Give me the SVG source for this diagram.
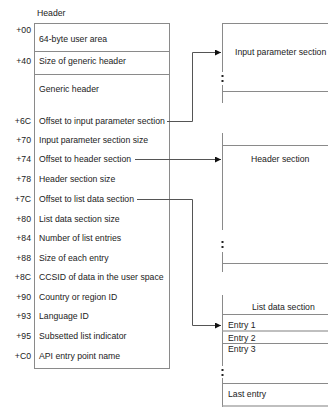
<svg xmlns="http://www.w3.org/2000/svg" width="328" height="407" viewBox="0 0 328 407">
<style>
text{font-family:"Liberation Sans",Arial,sans-serif;font-size:8.7px;fill:#222}
.off{text-anchor:end}
.box{fill:none;stroke:#8a8a8a;stroke-width:1}
.ln{stroke:#8a8a8a;stroke-width:1;fill:none}
.thk{stroke:#aaa;stroke-width:1.6;fill:none}
.con{stroke:#555;stroke-width:1;fill:none}
.dot{fill:#222}
</style>
<defs>
<marker id="arr" viewBox="0 0 6 6" refX="6" refY="3" markerWidth="6" markerHeight="6" markerUnits="userSpaceOnUse" orient="auto">
<path d="M0,0 L6,3 L0,6 Z" fill="#111"/>
</marker>
</defs>
<rect width="328" height="407" fill="#fff"/>
<g id="header">
<text x="37" y="16">Header</text>
<rect class="box" x="34.5" y="23.5" width="135" height="345"/>
<line class="ln" x1="34.5" y1="51.5" x2="169.5" y2="51.5"/>
<line class="ln" x1="34.5" y1="74.5" x2="169.5" y2="74.5"/>
<text class="off" x="31" y="33">+00</text><text x="39" y="42">64-byte user area</text>
<text class="off" x="31" y="64">+40</text><text x="39" y="64">Size of generic header</text>
<text x="39" y="92">Generic header</text>
<text class="off" x="31" y="124">+6C</text><text x="39" y="124">Offset to input parameter section</text>
<text class="off" x="31" y="143">+70</text><text x="39" y="143">Input parameter section size</text>
<text class="off" x="31" y="162">+74</text><text x="39" y="162">Offset to header section</text>
<text class="off" x="31" y="182">+78</text><text x="39" y="182">Header section size</text>
<text class="off" x="31" y="202">+7C</text><text x="39" y="202">Offset to list data section</text>
<text class="off" x="31" y="222">+80</text><text x="39" y="222">List data section size</text>
<text class="off" x="31" y="241">+84</text><text x="39" y="241">Number of list entries</text>
<text class="off" x="31" y="261">+88</text><text x="39" y="261">Size of each entry</text>
<text class="off" x="31" y="280">+8C</text><text x="39" y="280">CCSID  of data in the user space</text>
<text class="off" x="31" y="300">+90</text><text x="39" y="300">Country or region ID</text>
<text class="off" x="31" y="319">+93</text><text x="39" y="319">Language ID</text>
<text class="off" x="31" y="339">+95</text><text x="39" y="339">Subsetted list indicator</text>
<text class="off" x="31" y="359">+C0</text><text x="39" y="359">API entry point name</text>
</g>
<g id="input-parameter-section">
<line class="ln" x1="222.5" y1="23.5" x2="328" y2="23.5"/>
<line class="ln" x1="222.5" y1="23" x2="222.5" y2="72"/>
<rect class="dot" x="221.5" y="75" width="2" height="2"/>
<rect class="dot" x="221.5" y="80" width="2" height="2"/>
<line class="ln" x1="222.5" y1="85" x2="222.5" y2="103"/>
<line class="ln" x1="222.5" y1="91.5" x2="328" y2="91.5"/>
<text x="235" y="55">Input parameter section</text>
</g>
<g id="header-section">
<line class="ln" x1="222.5" y1="133" x2="222.5" y2="230"/>
<line class="ln" x1="222.5" y1="145.5" x2="328" y2="145.5"/>
<rect class="dot" x="221.5" y="241" width="2" height="2"/>
<rect class="dot" x="221.5" y="246" width="2" height="2"/>
<line class="ln" x1="222.5" y1="252" x2="222.5" y2="272"/>
<line class="ln" x1="222.5" y1="263.5" x2="328" y2="263.5"/>
<text x="251" y="162">Header section</text>
</g>
<g id="list-data-section">
<line class="ln" x1="222.5" y1="295" x2="222.5" y2="366"/>
<rect class="dot" x="221.5" y="369" width="2" height="2"/>
<rect class="dot" x="221.5" y="374" width="2" height="2"/>
<line class="ln" x1="222.5" y1="378" x2="222.5" y2="407"/>
<line class="ln" x1="222.5" y1="314.5" x2="328" y2="314.5"/>
<line class="thk" x1="222.5" y1="331" x2="328" y2="331"/>
<line class="ln" x1="222.5" y1="343.5" x2="328" y2="343.5"/>
<line class="ln" x1="222.5" y1="383.5" x2="328" y2="383.5"/>
<line class="thk" x1="222.5" y1="406" x2="328" y2="406"/>
<text x="252" y="310">List data section</text>
<text x="228" y="328">Entry 1</text>
<text x="228" y="341">Entry 2</text>
<text x="228" y="352">Entry 3</text>
<text x="228" y="397">Last entry</text>
</g>
<g id="connectors">
<path class="con" d="M167,121.5 H192.5 V52.5 H221" marker-end="url(#arr)"/>
<path class="con" d="M135,159.5 H221" marker-end="url(#arr)"/>
<path class="con" d="M137,199.5 H192.5 V325.5 H221" marker-end="url(#arr)"/>
</g>
</svg>
